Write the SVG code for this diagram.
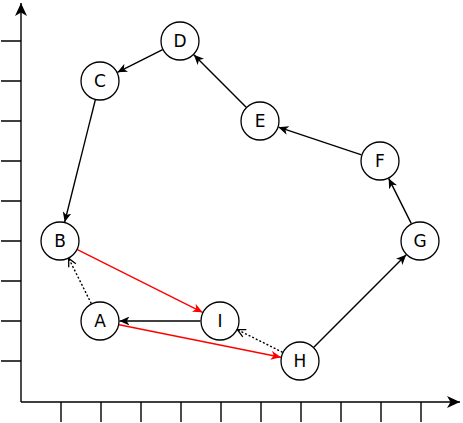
<svg xmlns="http://www.w3.org/2000/svg" width="463" height="423" viewBox="0 0 463 423">
<style>
.n circle{fill:#fff;stroke:#000;stroke-width:1.3}
.n text{font-family:"DejaVu Sans",sans-serif;font-size:17px;text-anchor:middle;dominant-baseline:central;fill:#000}
.e{stroke:#000;stroke-width:1.4;fill:none}
.r{stroke:#f00}
.d{stroke-dasharray:2 2}
.ax{stroke:#000;stroke-width:1.4;fill:none}
</style>
<defs>
<marker id="ab" viewBox="0 0 10 9" refX="10" refY="4.5" markerWidth="10" markerHeight="9" markerUnits="userSpaceOnUse" orient="auto"><path d="M0,0 L10,4.5 L0,9 L2.8,4.5 Z" fill="#000"/></marker>
<marker id="ar" viewBox="0 0 10 9" refX="10" refY="4.5" markerWidth="10" markerHeight="9" markerUnits="userSpaceOnUse" orient="auto"><path d="M0,0 L10,4.5 L0,9 L2.8,4.5 Z" fill="#f00"/></marker>
<marker id="ao" viewBox="0 0 10 10" refX="9" refY="5" markerWidth="10" markerHeight="10" markerUnits="userSpaceOnUse" orient="auto"><path d="M1,1 L9,5 L1,9" fill="none" stroke="#000" stroke-width="1.3"/></marker>
<marker id="ax" viewBox="0 0 13 12" refX="13" refY="6" markerWidth="13" markerHeight="12" markerUnits="userSpaceOnUse" orient="auto"><path d="M0,0 L13,6 L0,12 L3.5,6 Z" fill="#000"/></marker>
</defs>
<g id="axes">
<path class="ax" d="M21,402 L21,3" marker-end="url(#ax)"/>
<path class="ax" d="M21,402 L460,402" marker-end="url(#ax)"/>
<path class="ax" d="M1,41H21M1,81H21M1,121H21M1,161H21M1,201H21M1,241H21M1,281H21M1,321H21M1,361H21"/>
<path class="ax" d="M61,402V422M101,402V422M141,402V422M181,402V422M221,402V422M261,402V422M301,402V422M341,402V422M381,402V422M421,402V422"/>
</g>
<g id="connectors">
<line class="e" x1="162.6" y1="49.7" x2="117.4" y2="72.3" marker-end="url(#ab)"/>
<line class="e" x1="246.2" y1="107.2" x2="193.8" y2="54.8" marker-end="url(#ab)"/>
<line class="e" x1="361.5" y1="154.8" x2="278.5" y2="127.2" marker-end="url(#ab)"/>
<line class="e" x1="411.3" y1="223.6" x2="388.7" y2="178.4" marker-end="url(#ab)"/>
<line class="e" x1="313.8" y1="347.2" x2="406.2" y2="254.8" marker-end="url(#ab)"/>
<line class="e" x1="95.3" y1="99.9" x2="64.7" y2="222.1" marker-end="url(#ab)"/>
<line class="e r" x1="77.4" y1="249.7" x2="202.6" y2="312.3" marker-end="url(#ar)"/>
<line class="e r" x1="119.1" y1="324.8" x2="280.9" y2="357.2" marker-end="url(#ar)"/>
<line class="e" x1="200.5" y1="321" x2="119.5" y2="321" marker-end="url(#ab)"/>
<line class="e d" x1="282.6" y1="352.3" x2="237.4" y2="329.7" marker-end="url(#ao)"/>
<line class="e d" x1="91.3" y1="303.6" x2="68.7" y2="258.4" marker-end="url(#ao)"/>
</g>
<g id="node-D" class="n"><circle cx="180" cy="41" r="19"/><text x="180" y="41">D</text></g>
<g id="node-C" class="n"><circle cx="100" cy="81" r="19"/><text x="100" y="81">C</text></g>
<g id="node-E" class="n"><circle cx="260" cy="121" r="19"/><text x="260" y="121">E</text></g>
<g id="node-F" class="n"><circle cx="380" cy="161" r="19"/><text x="380" y="161">F</text></g>
<g id="node-B" class="n"><circle cx="60" cy="241" r="19"/><text x="60" y="241">B</text></g>
<g id="node-G" class="n"><circle cx="420" cy="241" r="19"/><text x="420" y="241">G</text></g>
<g id="node-A" class="n"><circle cx="100" cy="321" r="19"/><text x="100" y="321">A</text></g>
<g id="node-I" class="n"><circle cx="220" cy="321" r="19"/><text x="220" y="321">I</text></g>
<g id="node-H" class="n"><circle cx="300" cy="361" r="19"/><text x="300" y="361">H</text></g>
</svg>
